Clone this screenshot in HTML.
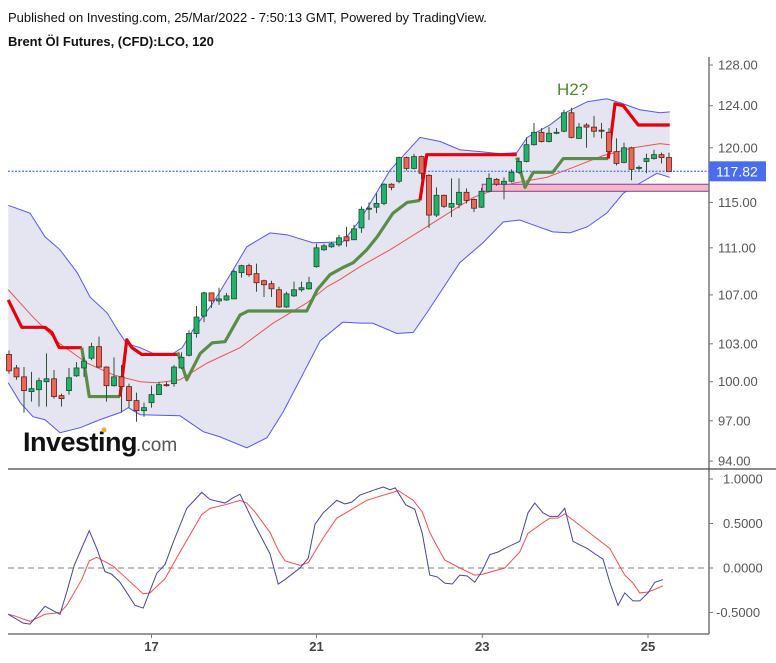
<!DOCTYPE html>
<html><head><meta charset="utf-8"><style>
html,body{margin:0;padding:0;background:#fff;}
body{width:776px;height:663px;overflow:hidden;font-family:"Liberation Sans",sans-serif;}
svg{display:block;}
</style></head>
<body>
<svg id="chart" width="776" height="663" viewBox="0 0 776 663" xmlns="http://www.w3.org/2000/svg" font-family="Liberation Sans, sans-serif">
<text x="8" y="22" font-size="13" fill="#111">Published on Investing.com, 25/Mar/2022 - 7:50:13 GMT, Powered by TradingView.</text>
<text x="8" y="46" font-size="13" font-weight="bold" fill="#111">Brent Öl Futures, (CFD):LCO, 120</text>
<g id="main"></g>
<g id="osc"></g>
<g>
<text x="23" y="451" font-size="27" font-weight="bold" fill="#111" letter-spacing="-0.5">Investing</text>
<text x="136" y="451" font-size="19" fill="#555">.com</text>
<circle cx="104" cy="430" r="2.5" fill="#f5a623"/>
</g>
<text x="557" y="95" font-size="17" fill="#4d8a30">H2?</text>
</svg>
<script>
// ---------- price data ----------
const candleOpen=[102.15,101.08,100.38,99.23,99.38,100.0,100.23,98.92,99.31,100.46,101.08,101.85,102.77,101.15,99.69,100.38,99.62,98.54,97.77,98.38,99.0,99.77,99.85,101.08,102.08,103.83,105.25,107.17,106.5,106.58,106.67,108.87,109.47,108.79,108.19,107.94,107.43,106.0,106.92,107.43,107.51,109.38,110.83,111.09,111.26,111.96,111.7,112.74,114.39,114.57,114.91,116.64,116.91,119.09,118.09,119.18,117.45,113.87,115.64,114.57,114.83,115.91,115.27,114.57,116.0,117.09,116.64,116.91,117.73,118.73,120.29,121.46,120.59,121.37,121.56,123.32,120.88,122.15,121.95,121.66,121.46,119.64,118.64,120.0,118.1,118.73,119.0,119.36,119.09];
const candleHigh=[102.46,101.31,101.15,100.77,100.31,102.23,100.92,99.08,101.08,101.54,101.92,103.08,103.58,101.2,101.92,101.31,99.85,99.15,98.38,99.69,100.0,100.0,101.31,102.31,104.08,106.08,107.26,107.2,107.6,107.17,109.13,109.55,109.64,109.64,108.28,108.19,107.68,107.26,108.11,108.11,108.53,111.35,111.35,111.5,112.13,112.83,113.0,114.65,115.0,115.82,116.73,116.73,119.18,119.18,119.45,119.27,117.55,116.36,115.7,117.18,117.18,116.27,115.36,116.3,117.64,117.2,117.27,118.0,119.1,120.98,122.34,121.85,121.95,121.85,123.61,123.8,122.34,122.34,123.02,122.34,121.85,120.88,120.49,120.1,118.36,119.45,119.82,119.55,119.55];
const candleLow=[100.62,100.15,97.62,98.46,98.08,98.08,98.69,98.08,99.0,100.38,100.38,101.69,101.08,98.46,99.62,97.62,98.0,96.93,97.31,98.0,99.0,99.62,99.62,101.0,102.0,103.5,104.75,105.92,106.17,106.5,106.67,108.45,108.53,107.26,106.83,106.83,105.92,105.92,106.83,107.26,107.43,109.3,110.75,111.0,111.09,111.09,111.7,112.3,113.43,114.04,114.74,116.09,116.73,117.9,118.0,117.09,112.74,113.7,114.5,113.7,114.48,114.9,114.13,114.5,115.9,116.5,115.27,116.8,117.6,118.64,120.2,120.5,120.5,121.27,121.46,120.88,120.88,120.0,120.98,120.88,119.55,118.36,118.55,117.0,117.9,117.64,118.9,118.55,117.82];
const candleClose=[100.85,100.38,99.31,99.46,100.08,100.23,98.85,98.69,100.31,101.08,101.62,102.77,101.15,99.69,100.38,99.62,98.54,97.77,98.0,99.0,99.77,99.69,101.15,101.92,103.83,105.17,107.17,106.5,106.67,106.92,108.96,109.47,108.7,108.02,107.85,107.51,106.0,107.09,107.43,107.6,108.02,111.0,111.17,111.35,111.87,111.61,112.65,114.39,114.48,114.91,116.64,116.36,119.09,118.09,119.18,117.64,113.87,115.64,114.65,114.91,115.91,115.18,114.48,116.0,117.18,116.64,116.91,117.73,118.73,120.29,121.46,120.59,121.37,121.46,123.32,120.98,121.95,121.95,121.56,121.56,119.64,118.55,120.0,118.0,118.18,119.0,119.36,119.09,117.82];
// Bollinger bands (candle index, price)
const bbUpperIdx=[-0.1,2.8,4.8,6.8,9.1,10.8,13.1,14.5,15.7,17.5,19.2,21.9,23.1,24.5,27.2,29.9,31.7,34.8,37.1,40.5,44.5,46.8,48.8,50.8,54.8,57.5,60.1,62.8,65.5,67.7,69.1,72.1,74.4,77.1,79.7,81.5,84.1,86.8,88.1];
const bbUpper=[114.74,114.04,111.96,110.83,108.87,106.83,105.5,104.08,103.0,102.69,102.23,102.23,102.69,104.08,106.33,109.13,111.09,112.3,112.13,111.44,111.52,113.43,115.64,117.91,120.98,120.59,119.82,119.64,119.45,119.55,120.98,122.15,123.41,124.39,124.68,124.29,123.61,123.32,123.41];
const bbLowerIdx=[-0.1,1.5,3.2,4.8,6.8,9.5,12.1,14.8,15.9,17.5,22.8,25.9,28.1,31.7,34.4,36.5,38.8,41.5,44.5,46.8,48.5,51.7,53.9,55.7,60.1,63.2,65.9,68.1,69.9,72.5,74.8,77.1,79.7,81.9,84.1,86.4,88.1];
const bbLower=[99.92,98.38,97.31,97.08,96.1,96.48,97.08,97.62,98.0,97.46,97.38,96.18,95.8,94.98,95.73,97.62,100.15,103.25,104.75,104.67,104.67,103.83,103.92,105.5,109.72,111.44,113.26,113.43,113.0,112.39,112.3,112.83,114.04,115.82,116.73,117.64,117.27];
const bbMidIdx=[-0.1,3.2,6.8,10.4,13.9,17.5,19.7,22.8,26.4,30.8,35.2,39.7,42.4,44.1,46.8,50.8,55.7,61.9,67.2,71.7,75.2,79.2,83.2,86.8,88.1];
const bbMid=[107.43,105.17,103.0,101.46,100.54,100.0,99.92,100.15,101.46,102.69,104.67,106.33,107.68,108.28,109.38,110.83,112.83,115.45,116.73,117.27,118.18,119.27,120.0,120.39,120.29];
// Trailing stop segments
const stopIdx=[[-0.1,1.7,4.8,5.7,6.7,9.7],[9.7,10.7,14.8],[14.8,15.7,16.4,17.7,22.5],[22.5,23.7,25.5,27.1,28.8,30.8,31.9,39.7,41.1,42.8,44.5,45.9,47.7,49.1,51.2,53.1,54.8],[54.8,55.7,67.7],[67.7,68.8,69.9,72.5,73.9,79.9],[79.9,80.8,81.9,83.9,88.1]];
const stopVal=[[106.58,104.33,104.33,103.92,102.69,102.69],[102.69,98.85,98.85],[98.85,103.33,102.69,102.15,102.15],[102.31,100.15,102.23,103.08,103.17,105.33,105.67,105.67,107.43,108.7,109.3,109.72,110.83,111.96,114.04,115.0,115.18],[115.18,119.36,119.36],[119.09,116.36,117.73,117.73,119.0,119.0],[119.0,124.19,124.0,122.15,122.15]];
const stopDir=["down","up","down","up","down","up","down"];
const zoneTop=116.64, zoneBottom=116.0, zoneStartIdx=63.1;
const lastPrice=117.82;
const priceTicks=[128,124,120,115,111,107,103,100,97,94];
const priceTickLabels=["128.00","124.00","120.00","115.00","111.00","107.00","103.00","100.00","97.00","94.00"];
// Oscillator
const oscKIdx=[-0.1,1.9,2.8,4.8,6.8,7.7,8.7,10.7,11.7,12.8,13.7,14.8,16.8,17.9,19.7,20.8,21.9,23.7,25.7,26.8,28.8,29.9,30.8,32.8,34.8,35.9,36.8,38.8,39.9,40.8,41.9,43.7,44.8,45.7,46.8,48.8,49.9,50.8,51.5,52.9,54.1,55.1,56.1,57.1,58.1,59.1,60.1,61.1,62.1,63.1,64.1,65.2,66.1,68.1,69.2,70.1,71.2,72.1,73.2,74.1,75.2,76.1,77.1,78.1,79.2,80.1,81.2,82.1,83.2,84.1,85.2,86.1,87.2];
const oscK=[-0.52,-0.62,-0.63,-0.43,-0.52,-0.27,0.03,0.42,0.22,-0.04,-0.07,-0.16,-0.42,-0.45,-0.06,0.04,0.29,0.67,0.85,0.77,0.73,0.79,0.83,0.48,0.16,-0.18,-0.13,0.0,0.11,0.49,0.62,0.76,0.72,0.74,0.82,0.88,0.91,0.88,0.9,0.71,0.66,0.39,-0.08,-0.1,-0.17,-0.18,-0.08,-0.09,-0.16,-0.03,0.15,0.18,0.22,0.3,0.62,0.73,0.62,0.58,0.58,0.67,0.3,0.26,0.22,0.16,0.1,-0.16,-0.42,-0.28,-0.37,-0.37,-0.28,-0.16,-0.13,-0.25];
const oscDIdx=[-0.1,0.8,2.8,4.8,6.8,7.7,9.7,10.7,11.7,13.9,15.7,17.9,18.8,20.8,22.8,25.7,26.8,28.8,30.8,31.7,32.8,34.8,35.9,36.8,38.8,39.9,41.9,43.7,45.7,47.7,48.8,50.8,51.9,53.9,55.1,56.1,57.1,58.1,60.1,61.1,62.1,63.1,66.1,68.1,69.2,71.2,72.1,73.2,74.1,76.1,78.1,80.1,82.1,83.2,84.1,85.2,86.1,87.2];
const oscD=[-0.52,-0.54,-0.6,-0.52,-0.5,-0.42,-0.13,0.08,0.12,0.02,-0.12,-0.29,-0.28,-0.12,0.18,0.6,0.67,0.71,0.76,0.73,0.63,0.4,0.2,0.08,0.03,0.06,0.34,0.56,0.66,0.76,0.79,0.84,0.87,0.76,0.63,0.4,0.24,0.09,0.0,-0.04,-0.08,-0.07,0.0,0.18,0.39,0.51,0.56,0.56,0.61,0.48,0.35,0.22,-0.08,-0.17,-0.28,-0.27,-0.24,-0.2,-0.21];
const oscTicks=[1,0.5,0,-0.5];
const oscTickLabels=["1.0000","0.5000","0.0000","-0.5000"];
const dateTickIdx=[19.0,41.0,63.1,85.2];
const dateTickLabels=["17","21","23","25"];

// ---------- axis functions ----------
const NS="http://www.w3.org/2000/svg";
const AXIS_X=709;
function X(i){return 9+7.5*i;}
function Y(p){return 65+1283*Math.log(128/p);}
function OY(v){return 568-89*v;}
function mk(tag,attrs,parent){const e=document.createElementNS(NS,tag);for(const k in attrs)e.setAttribute(k,attrs[k]);parent.appendChild(e);return e;}
const main=document.getElementById('main');
const osc=document.getElementById('osc');

// band fill
let pts=bbUpperIdx.map((v,k)=>X(v)+','+Y(bbUpper[k]));
for(let k=bbLowerIdx.length-1;k>=0;k--)pts.push(X(bbLowerIdx[k])+','+Y(bbLower[k]));
let e=mk('polygon',{points:pts.join(' '),fill:'#e5e5f1',stroke:'none'},main);


e=mk('polyline',{points:bbUpperIdx.map((v,k)=>X(v)+','+Y(bbUpper[k])).join(' '),fill:'none',stroke:'#5555ff','stroke-width':1},main);


e=mk('polyline',{points:bbLowerIdx.map((v,k)=>X(v)+','+Y(bbLower[k])).join(' '),fill:'none',stroke:'#5555ff','stroke-width':1},main);


e=mk('polyline',{points:bbMidIdx.map((v,k)=>X(v)+','+Y(bbMid[k])).join(' '),fill:'none',stroke:'#f05050','stroke-width':1},main);



// support zone
e=mk('rect',{x:X(zoneStartIdx),y:Y(zoneTop),width:AXIS_X-X(zoneStartIdx),height:Y(zoneBottom)-Y(zoneTop),fill:'#f4b8c8',stroke:'#8a3a9a','stroke-width':1},main);



// last price line
e=mk('line',{x1:8,x2:AXIS_X,y1:Y(lastPrice),y2:Y(lastPrice),stroke:'#5f7ef5','stroke-width':1.3,'stroke-dasharray':'2,1.5'},main);



// stop segments
stopIdx.forEach((seg,s)=>{
  const el=mk('polyline',{points:seg.map((v,k)=>X(v)+','+Y(stopVal[s][k])).join(' '),fill:'none',stroke:stopDir[s]==='down'?'#e8000b':'#5b8c47','stroke-width':3.2,'stroke-linejoin':'round'},main);
  
  
});

// candles
for(let i=0;i<candleOpen.length;i++){
  const o=candleOpen[i],c=candleClose[i],h=candleHigh[i],l=candleLow[i];
  const up=c>=o, x=X(i);
  const g=mk('g',{},main);
  
  
  mk('line',{x1:x,x2:x,y1:Y(h),y2:Y(l),stroke:'#2e5238','stroke-width':1},g);
  const top=Y(Math.max(o,c)),bot=Y(Math.min(o,c));
  mk('rect',{x:x-2.5,y:top,width:5,height:Math.max(1,bot-top),fill:up?'#1fb46a':'#f06656',stroke:up?'#1d4a2c':'#5a1f1a','stroke-width':0.8},g);
}

// price axis
e=mk('line',{x1:AXIS_X,x2:AXIS_X,y1:57,y2:634,stroke:'#777','stroke-width':1.5},main);


priceTicks.forEach((p,k)=>{
  mk('line',{x1:AXIS_X,x2:AXIS_X+4,y1:Y(p),y2:Y(p),stroke:'#777'},main);
  const t=mk('text',{x:718,y:Y(p)+4.5,'font-size':13,fill:'#555'},main);
  t.textContent=priceTickLabels[k];
  
  
});
e=mk('rect',{x:AXIS_X,y:Y(lastPrice)-10,width:57,height:20,fill:'#4a6cf0'},main);


e=mk('text',{x:716,y:Y(lastPrice)+5,'font-size':14,fill:'#fff'},main);
e.textContent=lastPrice.toFixed(2);



// pane divider
e=mk('line',{x1:8,x2:776,y1:469,y2:469,stroke:'#444','stroke-width':1.2},osc);


e=mk('line',{x1:8,x2:AXIS_X,y1:OY(0),y2:OY(0),stroke:'#999','stroke-width':1.2,'stroke-dasharray':'6,4'},osc);


e=mk('polyline',{points:oscDIdx.map((v,k)=>X(v)+','+OY(oscD[k])).join(' '),fill:'none',stroke:'#ff4a4a','stroke-width':1},osc);


e=mk('polyline',{points:oscKIdx.map((v,k)=>X(v)+','+OY(oscK[k])).join(' '),fill:'none',stroke:'#4444a8','stroke-width':1},osc);


oscTicks.forEach((v,k)=>{
  mk('line',{x1:AXIS_X,x2:AXIS_X+4,y1:OY(v),y2:OY(v),stroke:'#777'},osc);
  const t=mk('text',{x:v<0?716:723,y:OY(v)+4.5,'font-size':13,fill:'#555'},osc);
  t.textContent=oscTickLabels[k];
  
  
});
e=mk('line',{x1:8,x2:AXIS_X,y1:634,y2:634,stroke:'#777','stroke-width':1.5},osc);


dateTickIdx.forEach((v,k)=>{
  mk('line',{x1:X(v),x2:X(v),y1:634,y2:638,stroke:'#777'},osc);
  const t=mk('text',{x:X(v),y:651,'font-size':13,'font-weight':'bold',fill:'#444','text-anchor':'middle'},osc);
  t.textContent=dateTickLabels[k];
  
  
});
</script>
</body></html>
